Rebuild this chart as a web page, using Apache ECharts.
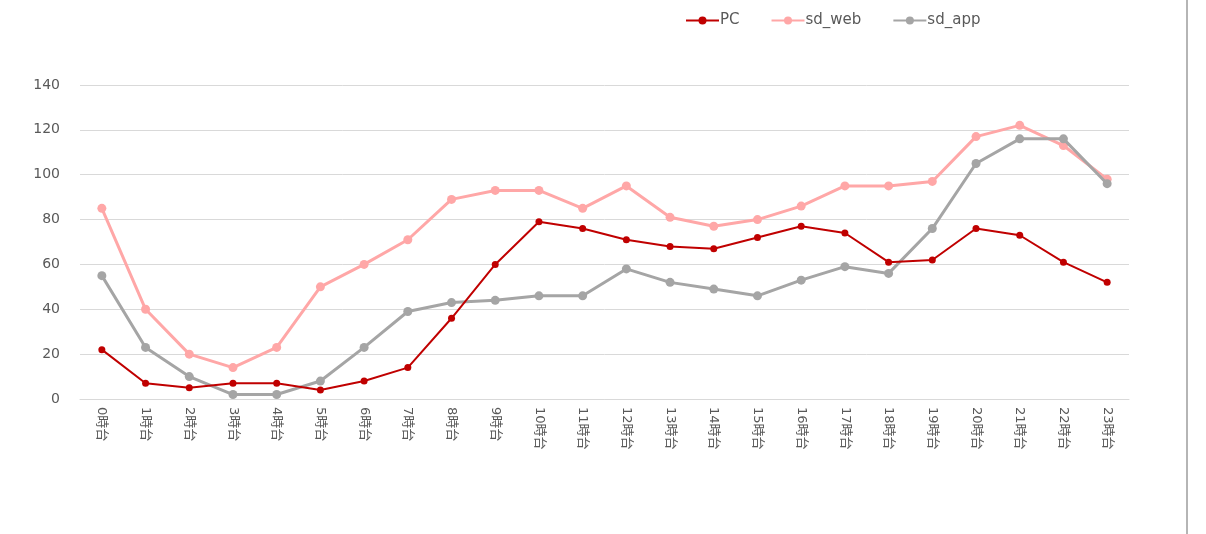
<!DOCTYPE html>
<html><head><meta charset="utf-8">
<script src="https://cdn.jsdelivr.net/npm/echarts@6/dist/echarts.min.js"></script>
<style>html,body{margin:0;padding:0;background:#fff}#c{width:1206px;height:534px}</style>
</head><body><div id="c"></div>
<script>
const categories = ["0時台","1時台","2時台","3時台","4時台","5時台","6時台","7時台","8時台","9時台","10時台","11時台","12時台","13時台","14時台","15時台","16時台","17時台","18時台","19時台","20時台","21時台","22時台","23時台"];
const pc = [22,7,5,7,7,4,8,14,36,60,79,76,71,68,67,72,77,74,61,62,76,73,61,52];
const sdWeb = [85,40,20,14,23,50,60,71,89,93,93,85,95,81,77,80,86,95,95,97,117,122,113,98];
const sdApp = [55,23,10,2,2,8,23,39,43,44,46,46,58,52,49,46,53,59,56,76,105,116,116,96];

const font = "'DejaVu Sans', 'Noto Sans CJK JP', sans-serif";
const chart = echarts.init(document.getElementById('c'));
chart.setOption({
  animation: false,
  textStyle: {fontFamily: font},
  legend: {
    top: 8, left: 680, itemWidth: 33, itemHeight: 10, itemGap: 31,
    textStyle: {fontSize: 15, color: '#595959', fontFamily: font, padding: [0,0,0,-4]},
    data: ['PC','sd_web','sd_app']
  },
  grid: {left: 80, right: 77, top: 85, bottom: 135},
  xAxis: {
    type: 'category', data: categories, boundaryGap: true,
    axisLine: {lineStyle: {color: '#d9d9d9'}},
    axisTick: {show: false},
    axisLabel: {rotate: -90, color: '#595959', fontSize: 13, margin: 8, fontFamily: font, interval: 0}
  },
  yAxis: {
    type: 'value', min: 0, max: 140, interval: 20,
    axisLine: {show: false}, axisTick: {show: false},
    splitLine: {lineStyle: {color: '#d9d9d9'}},
    axisLabel: {color: '#595959', fontSize: 14, margin: 20, fontFamily: font}
  },
  series: [
    {name: 'PC', type: 'line', data: pc, color: '#c00000', symbol: 'circle', symbolSize: 7, lineStyle: {width: 2}, z: 4},
    {name: 'sd_web', type: 'line', data: sdWeb, color: '#ffa7a7', symbol: 'circle', symbolSize: 9, lineStyle: {width: 3}, z: 2},
    {name: 'sd_app', type: 'line', data: sdApp, color: '#a5a5a5', symbol: 'circle', symbolSize: 9, lineStyle: {width: 3}, z: 3}
  ],
  graphic: [{type: 'line', shape: {x1: 1187, y1: 0, x2: 1187, y2: 534}, style: {stroke: '#b5b5b5', lineWidth: 2}}]
});
</script></body></html>
